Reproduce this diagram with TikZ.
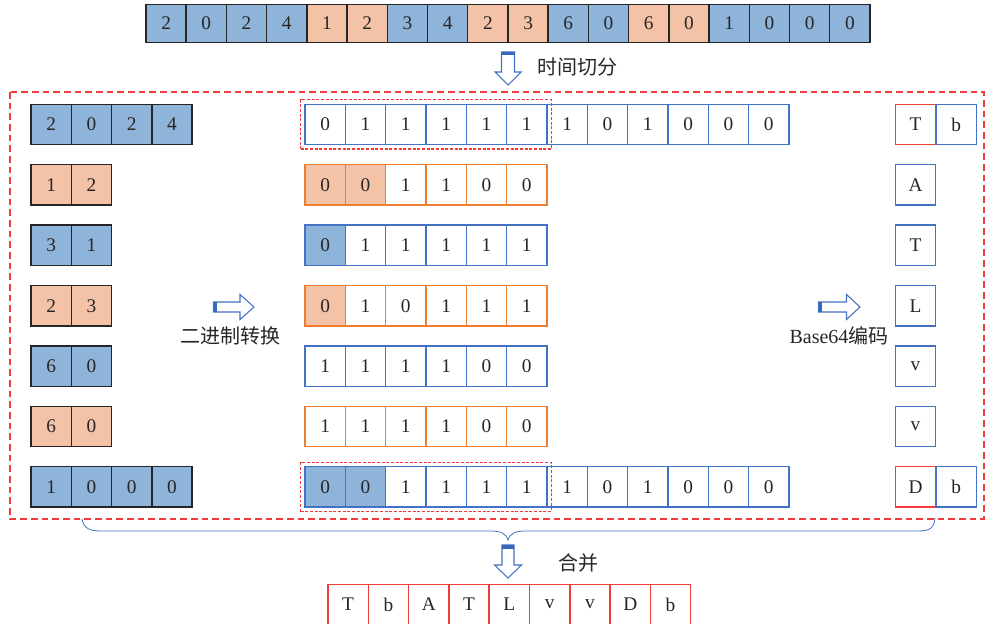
\documentclass[tikz,border=0pt]{standalone}
\usepackage{fontspec}
\setmainfont{Liberation Serif}
\newfontfamily\cjk{Noto Sans CJK SC}
\usetikzlibrary{fit}
\definecolor{fillB}{HTML}{8FB4D9}
\definecolor{fillS}{HTML}{F4C2A6}
\definecolor{lineB}{HTML}{4472C4}
\definecolor{lineO}{HTML}{ED7D31}
\definecolor{lineR}{HTML}{F23A3A}
\definecolor{lineK}{HTML}{262626}
\definecolor{bandB}{HTML}{3A66B8}
\tikzset{
  cell/.style={draw, minimum width=30.25pt, minimum height=30.3pt, inner sep=0pt, outer sep=0pt,
    line width=1.1pt, font=\fontsize{14.5}{14.5}\selectfont, text=black!85},
  topcell/.style={cell, draw=lineK, minimum width=30.165pt, minimum height=28.5pt},
  leftcell/.style={cell, draw=lineK, minimum width=30.225pt},
  hollowarrow/.style={draw=lineB, fill=white, line width=0.8pt, line join=miter},
  band/.style={fill=bandB, draw=none},
  label/.style={font=\fontsize{15}{15}\selectfont, text=black!85, inner sep=0pt},
  smallbox/.style={draw=lineR, dash pattern=on 2.2pt off 1.3pt, line width=0.9pt, inner sep=3.3pt},
  bigbox/.style={draw=lineR, line width=0.9pt, dash pattern=on 5pt off 3pt},
  bracepath/.style={draw=lineB, line width=0.6pt}
}
\newcommand{\leftrow}[3]{%
  \foreach \v [count=\j] in {#2} {
    \node[leftcell, fill=#3] (l#1-\j) at ({31+40.3*(\j-0.5)}, {124.5+60.4*(#1-1)}) {\v};
  }}
\newcommand{\midrow}[5]{%
  \foreach \v [count=\j] in {#2} {
    \ifnum\j>#5 \def\fc{white}\else\def\fc{#4}\fi
    \node[cell, draw=#3, fill=\fc] (m#1-\j) at ({305+40.33*(\j-0.5)}, {124.5+60.4*(#1-1)}) {\v};
  }}
\begin{document}
\begin{tikzpicture}[x=0.75pt,y=-0.75pt]
\useasboundingbox (0,0) rectangle (985,624);

% top row
\foreach \v/\c [count=\i] in {2/fillB,0/fillB,2/fillB,4/fillB,1/fillS,2/fillS,3/fillB,4/fillB,2/fillS,3/fillS,6/fillB,0/fillB,6/fillS,0/fillS,1/fillB,0/fillB,0/fillB,0/fillB} {
  \node[topcell, fill=\c] (t\i) at ({146+40.22*(\i-0.5)}, 23.5) {\v};
}

% arrow: time split
\draw[hollowarrow] (501.5,52) -- (514.5,52) -- (514.5,72) -- (521,72) -- (508,85) -- (495,72) -- (501.5,72) -- cycle;
\fill[band] (501.5,52) rectangle (514.5,55.5);
\node[label, font=\cjk\fontsize{15}{15}\selectfont] (split) at (577,67) {时间切分};

% big dashed box
\draw[bigbox] (10,92) rectangle (984,519);

% left column
\leftrow{1}{2,0,2,4}{fillB}
\leftrow{2}{1,2}{fillS}
\leftrow{3}{3,1}{fillB}
\leftrow{4}{2,3}{fillS}
\leftrow{5}{6,0}{fillB}
\leftrow{6}{6,0}{fillS}
\leftrow{7}{1,0,0,0}{fillB}

% middle column
\midrow{1}{0,1,1,1,1,1,1,0,1,0,0,0}{lineB}{fillB}{0}
\midrow{2}{0,0,1,1,0,0}{lineO}{fillS}{2}
\midrow{3}{0,1,1,1,1,1}{lineB}{fillB}{1}
\midrow{4}{0,1,0,1,1,1}{lineO}{fillS}{1}
\midrow{5}{1,1,1,1,0,0}{lineB}{fillB}{0}
\midrow{6}{1,1,1,1,0,0}{lineO}{fillS}{0}
\midrow{7}{0,0,1,1,1,1,1,0,1,0,0,0}{lineB}{fillB}{2}

\node[smallbox, fit=(m1-1)(m1-6)] (sel1) {};
\node[smallbox, fit=(m7-1)(m7-6)] (sel7) {};

% right column
\node[cell, draw=lineB] (r1b) at (956.3,124.5) {b};
\node[cell, draw=lineR] (r1a) at (915.5,124.5) {T};
\node[cell, draw=lineB] (r2) at (915.5,184.9) {A};
\node[cell, draw=lineB] (r3) at (915.5,245.3) {T};
\node[cell, draw=lineB] (r4) at (915.5,305.7) {L};
\node[cell, draw=lineB] (r5) at (915.5,366.1) {v};
\node[cell, draw=lineB] (r6) at (915.5,426.5) {v};
\node[cell, draw=lineB] (r7b) at (956.3,486.9) {b};
\node[cell, draw=lineR] (r7a) at (915.5,486.9) {D};

% horizontal arrows
\draw[hollowarrow] (213.5,302) -- (240,302) -- (240,294.5) -- (254,307) -- (240,319.5) -- (240,312) -- (213.5,312) -- cycle;
\fill[band] (213.5,302) rectangle (217,312);
\node[label, font=\cjk\fontsize{15}{15}\selectfont] (bin) at (230,336) {二进制转换};

\draw[hollowarrow] (818.5,302) -- (846.5,302) -- (846.5,294.5) -- (860,307) -- (846.5,319.5) -- (846.5,312) -- (818.5,312) -- cycle;
\fill[band] (818.5,302) rectangle (822,312);
\node[label] (b64) at (839,336) {Base64{\cjk 编码}};

% brace
\draw[bracepath] (82,519) .. controls (84,529) and (90,531) .. (102,531) -- (490,531)
  .. controls (500,531) and (506,533) .. (508,540) .. controls (510,533) and (516,531) .. (526,531)
  -- (918,531) .. controls (930,531) and (934,528) .. (935,518);

% arrow: merge
\draw[hollowarrow] (502,545) -- (514,545) -- (514,565) -- (521.5,565) -- (508,578) -- (494.5,565) -- (502,565) -- cycle;
\fill[band] (502,545) rectangle (514,548.5);
\node[label, font=\cjk\fontsize{15}{15}\selectfont] (merge) at (578,563) {合并};

% bottom row
\foreach \v [count=\i] in {T,b,A,T,L,v,v,D,b} {
  \node[cell, draw=lineR] (o\i) at ({328+40.3*(\i-0.5)}, 604.5) {\v};
}
\end{tikzpicture}
\end{document}
